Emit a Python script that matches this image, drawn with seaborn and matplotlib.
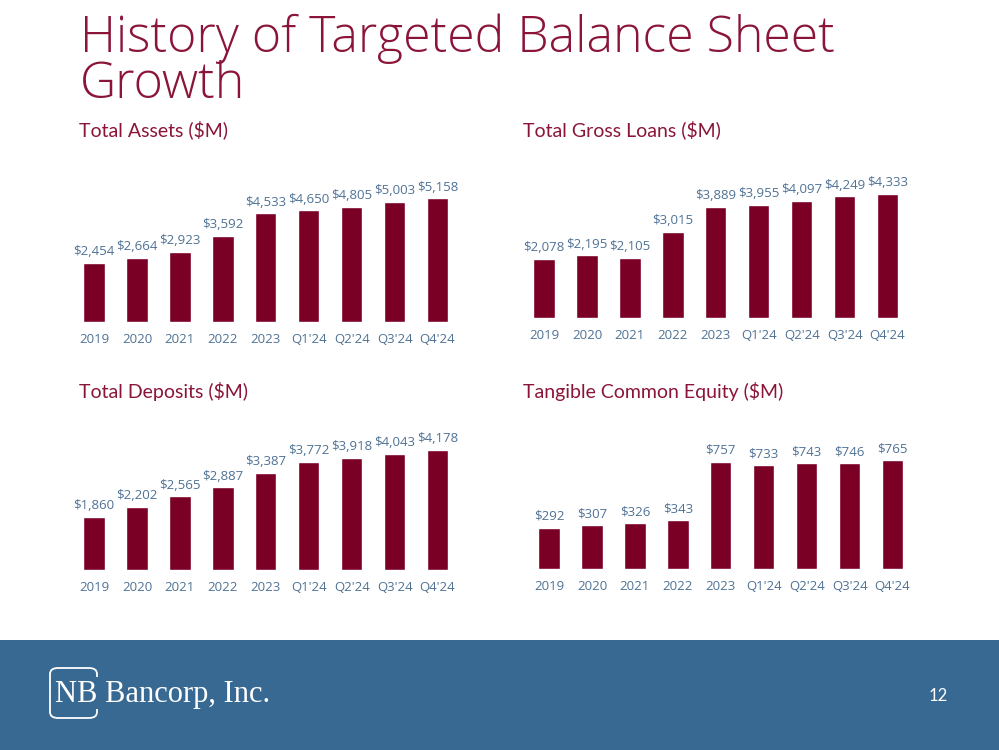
import matplotlib
matplotlib.use('Agg')
import matplotlib.pyplot as plt
import seaborn as sns
import pandas as pd
from matplotlib.patches import FancyBboxPatch, Rectangle

# 数据
periods = ['2019', '2020', '2021', '2022', '2023', "Q1'24", "Q2'24", "Q3'24", "Q4'24"]
total_assets = [2454, 2664, 2923, 3592, 4533, 4650, 4805, 5003, 5158]
gross_loans = [2078, 2195, 2105, 3015, 3889, 3955, 4097, 4249, 4333]
total_deposits = [1860, 2202, 2565, 2887, 3387, 3772, 3918, 4043, 4178]
tangible_equity = [292, 307, 326, 343, 757, 733, 743, 746, 765]

panel_titles = ['Total Assets ($M)', 'Total Gross Loans ($M)',
                'Total Deposits ($M)', 'Tangible Common Equity ($M)']

# 颜色
bar_color = '#7a0026'
title_color = '#8a1538'
label_color = '#4f7295'
footer_color = '#376992'

sns.set_style('white')
plt.rcParams['font.family'] = ['Open Sans', 'DejaVu Sans']

W, H = 999, 750
fig = plt.figure(figsize=(W / 100, H / 100), dpi=100)


def add_px_axes(left, baseline, width, height):
    """按像素位置添加坐标轴"""
    return fig.add_axes([left / W, (H - baseline) / H, width / W, height / H])


# 每个子图: (数据, 第一根柱中心x, 基线y, 每单位像素, 标题x, 标题基线y)
step = 42.94
panels = [
    (total_assets, 94, 322, 0.024, 79, 136),
    (gross_loans, 544, 318, 0.0286, 523, 136),
    (total_deposits, 94, 570, 0.0287, 79, 398),
    (tangible_equity, 549, 569, 0.142, 523, 398),
]

for (values, x0, base, scale, tx, ty), title in zip(panels, panel_titles):
    ax_h = 170
    ax = add_px_axes(x0 - 0.6 * step, base, 9.2 * step, ax_h)
    df = pd.DataFrame({'period': periods, 'value': values})
    sns.barplot(data=df, x='period', y='value', color=bar_color,
                width=0.5, saturation=1, ax=ax)
    ax.set_xlim(-0.6, 8.6)
    ax.set_ylim(0, ax_h / scale)
    for i, v in enumerate(values):
        ax.annotate(f'${v:,}', (i, v), xytext=(0, 5.5), textcoords='offset points',
                    ha='center', va='baseline', fontsize=9.5, color=label_color)
    ax.set_xlabel('')
    ax.set_ylabel('')
    ax.set_yticks([])
    ax.tick_params(axis='x', length=0, pad=8, labelsize=9.5, labelcolor=label_color)
    sns.despine(ax=ax, left=True, bottom=True)
    ax.patch.set_alpha(0)
    fig.text(tx / W, 1 - ty / H, title, fontsize=14, color=title_color,
             family=['Lato', 'DejaVu Sans'], va='baseline', ha='left')

# 大标题
fig.text(80 / W, 1 - 52 / H, 'History of Targeted Balance Sheet', fontsize=36,
         color=title_color, fontweight='light', va='baseline', ha='left')
fig.text(80 / W, 1 - 98 / H, 'Growth', fontsize=36,
         color=title_color, fontweight='light', va='baseline', ha='left')

# 底部色带
fig.patches.append(Rectangle((0, 0), 1, 110 / H, transform=fig.transFigure,
                             facecolor=footer_color, edgecolor='none', zorder=0))
fig.patches.append(FancyBboxPatch((50 / W, 1 - 718 / H), 47 / W, 50 / H,
                                  boxstyle='round,pad=0,rounding_size=0.008',
                                  transform=fig.transFigure, facecolor='none',
                                  edgecolor='white', linewidth=1.3, zorder=1))
fig.patches.append(Rectangle((95 / W, 1 - 709 / H), 5 / W, 32 / H,
                             transform=fig.transFigure, facecolor=footer_color,
                             edgecolor='none', zorder=2))
fig.text(55 / W, 1 - 702 / H, 'NB Bancorp, Inc.', fontsize=22, color='white',
         family=['Liberation Serif', 'DejaVu Serif'], va='baseline', ha='left')
fig.text(938 / W, 1 - 696 / H, '12', fontsize=12, color='white',
         family=['Lato', 'DejaVu Sans'], va='center', ha='center')

plt.savefig('out.png', dpi=100)
